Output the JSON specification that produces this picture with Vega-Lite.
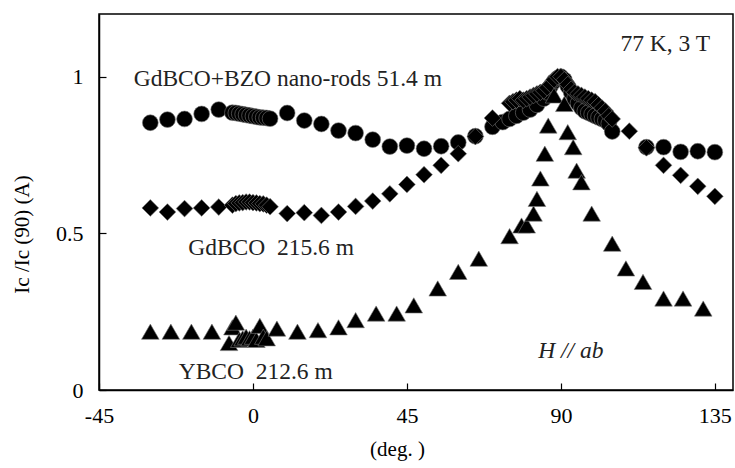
{
  "$schema": "https://vega.github.io/schema/vega-lite/v6.json",
  "autosize": "none",
  "width": 634,
  "height": 376,
  "padding": {"left": 99, "top": 14, "right": 2, "bottom": 78},
  "background": "white",
  "config": {
    "font": "Liberation Serif",
    "view": {"stroke": "black", "strokeWidth": 1.5},
    "axis": {"grid": false, "domainColor": "black", "domainWidth": 1.5, "tickColor": "black", "labelColor": "black", "titleColor": "black", "labelFont": "Liberation Serif", "titleFont": "Liberation Serif", "labelFontSize": 22, "titleFontSize": 21, "titleFontWeight": "normal"}
  },
  "datasets": {
    "pts": [
      {"s": "GdBCO+BZO", "a": -30, "v": 0.853}, {"s": "GdBCO+BZO", "a": -25, "v": 0.863}, {"s": "GdBCO+BZO", "a": -20, "v": 0.865}, {"s": "GdBCO+BZO", "a": -15, "v": 0.881}, {"s": "GdBCO+BZO", "a": -10, "v": 0.895},
      {"s": "GdBCO+BZO", "a": -6, "v": 0.885}, {"s": "GdBCO+BZO", "a": -5, "v": 0.884}, {"s": "GdBCO+BZO", "a": -4, "v": 0.882}, {"s": "GdBCO+BZO", "a": -3, "v": 0.88}, {"s": "GdBCO+BZO", "a": -2, "v": 0.878}, {"s": "GdBCO+BZO", "a": -1, "v": 0.876}, {"s": "GdBCO+BZO", "a": 0, "v": 0.874}, {"s": "GdBCO+BZO", "a": 1, "v": 0.872}, {"s": "GdBCO+BZO", "a": 2, "v": 0.87}, {"s": "GdBCO+BZO", "a": 3, "v": 0.869}, {"s": "GdBCO+BZO", "a": 4, "v": 0.868}, {"s": "GdBCO+BZO", "a": 5, "v": 0.866},
      {"s": "GdBCO+BZO", "a": 10, "v": 0.884}, {"s": "GdBCO+BZO", "a": 15, "v": 0.86}, {"s": "GdBCO+BZO", "a": 20, "v": 0.849}, {"s": "GdBCO+BZO", "a": 25, "v": 0.828}, {"s": "GdBCO+BZO", "a": 30, "v": 0.82}, {"s": "GdBCO+BZO", "a": 35, "v": 0.799}, {"s": "GdBCO+BZO", "a": 40, "v": 0.777}, {"s": "GdBCO+BZO", "a": 45, "v": 0.78}, {"s": "GdBCO+BZO", "a": 50, "v": 0.77}, {"s": "GdBCO+BZO", "a": 55, "v": 0.778}, {"s": "GdBCO+BZO", "a": 60, "v": 0.79},
      {"s": "GdBCO+BZO", "a": 65, "v": 0.81}, {"s": "GdBCO+BZO", "a": 70, "v": 0.84}, {"s": "GdBCO+BZO", "a": 73, "v": 0.855}, {"s": "GdBCO+BZO", "a": 75, "v": 0.865}, {"s": "GdBCO+BZO", "a": 77, "v": 0.875}, {"s": "GdBCO+BZO", "a": 79, "v": 0.885}, {"s": "GdBCO+BZO", "a": 81, "v": 0.895}, {"s": "GdBCO+BZO", "a": 83, "v": 0.91}, {"s": "GdBCO+BZO", "a": 85, "v": 0.93}, {"s": "GdBCO+BZO", "a": 86, "v": 0.95}, {"s": "GdBCO+BZO", "a": 87, "v": 0.97}, {"s": "GdBCO+BZO", "a": 88, "v": 0.985}, {"s": "GdBCO+BZO", "a": 89, "v": 0.995}, {"s": "GdBCO+BZO", "a": 90, "v": 1.0}, {"s": "GdBCO+BZO", "a": 91, "v": 0.99}, {"s": "GdBCO+BZO", "a": 92, "v": 0.97}, {"s": "GdBCO+BZO", "a": 93, "v": 0.95}, {"s": "GdBCO+BZO", "a": 94, "v": 0.93}, {"s": "GdBCO+BZO", "a": 95, "v": 0.915}, {"s": "GdBCO+BZO", "a": 96, "v": 0.9}, {"s": "GdBCO+BZO", "a": 97, "v": 0.89}, {"s": "GdBCO+BZO", "a": 98, "v": 0.885}, {"s": "GdBCO+BZO", "a": 99, "v": 0.88}, {"s": "GdBCO+BZO", "a": 100, "v": 0.875}, {"s": "GdBCO+BZO", "a": 101, "v": 0.87}, {"s": "GdBCO+BZO", "a": 102, "v": 0.865}, {"s": "GdBCO+BZO", "a": 103, "v": 0.86}, {"s": "GdBCO+BZO", "a": 104, "v": 0.85}, {"s": "GdBCO+BZO", "a": 105, "v": 0.825}, {"s": "GdBCO+BZO", "a": 115, "v": 0.775}, {"s": "GdBCO+BZO", "a": 120, "v": 0.775}, {"s": "GdBCO+BZO", "a": 125, "v": 0.76}, {"s": "GdBCO+BZO", "a": 130, "v": 0.762}, {"s": "GdBCO+BZO", "a": 135, "v": 0.759},

      {"s": "GdBCO", "a": -30, "v": 0.581}, {"s": "GdBCO", "a": -25, "v": 0.568}, {"s": "GdBCO", "a": -20, "v": 0.579}, {"s": "GdBCO", "a": -15, "v": 0.581}, {"s": "GdBCO", "a": -10, "v": 0.584},
      {"s": "GdBCO", "a": -6, "v": 0.59}, {"s": "GdBCO", "a": -5, "v": 0.595}, {"s": "GdBCO", "a": -4, "v": 0.597}, {"s": "GdBCO", "a": -3, "v": 0.598}, {"s": "GdBCO", "a": -2, "v": 0.6}, {"s": "GdBCO", "a": -1, "v": 0.6}, {"s": "GdBCO", "a": 0, "v": 0.598}, {"s": "GdBCO", "a": 1, "v": 0.597}, {"s": "GdBCO", "a": 2, "v": 0.595}, {"s": "GdBCO", "a": 3, "v": 0.594}, {"s": "GdBCO", "a": 4, "v": 0.59}, {"s": "GdBCO", "a": 5, "v": 0.585},
      {"s": "GdBCO", "a": 10, "v": 0.563}, {"s": "GdBCO", "a": 15, "v": 0.566}, {"s": "GdBCO", "a": 20, "v": 0.557}, {"s": "GdBCO", "a": 25, "v": 0.568}, {"s": "GdBCO", "a": 30, "v": 0.586}, {"s": "GdBCO", "a": 35, "v": 0.603}, {"s": "GdBCO", "a": 40, "v": 0.626}, {"s": "GdBCO", "a": 45, "v": 0.656}, {"s": "GdBCO", "a": 50, "v": 0.687}, {"s": "GdBCO", "a": 55, "v": 0.717}, {"s": "GdBCO", "a": 60, "v": 0.754}, {"s": "GdBCO", "a": 65, "v": 0.809}, {"s": "GdBCO", "a": 70, "v": 0.868},
      {"s": "GdBCO", "a": 75, "v": 0.915}, {"s": "GdBCO", "a": 76, "v": 0.92}, {"s": "GdBCO", "a": 77, "v": 0.925}, {"s": "GdBCO", "a": 78, "v": 0.93}, {"s": "GdBCO", "a": 79, "v": 0.925}, {"s": "GdBCO", "a": 80, "v": 0.93}, {"s": "GdBCO", "a": 81, "v": 0.935}, {"s": "GdBCO", "a": 82, "v": 0.94}, {"s": "GdBCO", "a": 83, "v": 0.945}, {"s": "GdBCO", "a": 84, "v": 0.95}, {"s": "GdBCO", "a": 85, "v": 0.955}, {"s": "GdBCO", "a": 86, "v": 0.965}, {"s": "GdBCO", "a": 87, "v": 0.975}, {"s": "GdBCO", "a": 88, "v": 0.99}, {"s": "GdBCO", "a": 89, "v": 1.0}, {"s": "GdBCO", "a": 90, "v": 1.0}, {"s": "GdBCO", "a": 91, "v": 0.99}, {"s": "GdBCO", "a": 92, "v": 0.975}, {"s": "GdBCO", "a": 93, "v": 0.96}, {"s": "GdBCO", "a": 94, "v": 0.95}, {"s": "GdBCO", "a": 95, "v": 0.945}, {"s": "GdBCO", "a": 96, "v": 0.94}, {"s": "GdBCO", "a": 97, "v": 0.935}, {"s": "GdBCO", "a": 98, "v": 0.93}, {"s": "GdBCO", "a": 99, "v": 0.925}, {"s": "GdBCO", "a": 100, "v": 0.92}, {"s": "GdBCO", "a": 101, "v": 0.91}, {"s": "GdBCO", "a": 102, "v": 0.9}, {"s": "GdBCO", "a": 103, "v": 0.89}, {"s": "GdBCO", "a": 104, "v": 0.875}, {"s": "GdBCO", "a": 105, "v": 0.865},
      {"s": "GdBCO", "a": 110, "v": 0.826}, {"s": "GdBCO", "a": 115, "v": 0.773}, {"s": "GdBCO", "a": 120, "v": 0.717}, {"s": "GdBCO", "a": 125, "v": 0.685}, {"s": "GdBCO", "a": 130, "v": 0.65}, {"s": "GdBCO", "a": 135, "v": 0.618},

      {"s": "YBCO", "a": -30, "v": 0.186}, {"s": "YBCO", "a": -24, "v": 0.186}, {"s": "YBCO", "a": -18, "v": 0.186}, {"s": "YBCO", "a": -12, "v": 0.186},
      {"s": "YBCO", "a": -7, "v": 0.15}, {"s": "YBCO", "a": -6, "v": 0.2}, {"s": "YBCO", "a": -5, "v": 0.215}, {"s": "YBCO", "a": -4, "v": 0.16}, {"s": "YBCO", "a": -3, "v": 0.165}, {"s": "YBCO", "a": -2, "v": 0.17}, {"s": "YBCO", "a": -1, "v": 0.165}, {"s": "YBCO", "a": 0, "v": 0.17}, {"s": "YBCO", "a": 1, "v": 0.16}, {"s": "YBCO", "a": 2, "v": 0.205}, {"s": "YBCO", "a": 3, "v": 0.17}, {"s": "YBCO", "a": 4, "v": 0.165},
      {"s": "YBCO", "a": 7, "v": 0.196}, {"s": "YBCO", "a": 13, "v": 0.186}, {"s": "YBCO", "a": 19, "v": 0.191}, {"s": "YBCO", "a": 25, "v": 0.2}, {"s": "YBCO", "a": 30, "v": 0.223}, {"s": "YBCO", "a": 36, "v": 0.244}, {"s": "YBCO", "a": 42, "v": 0.244}, {"s": "YBCO", "a": 47, "v": 0.27}, {"s": "YBCO", "a": 54, "v": 0.324}, {"s": "YBCO", "a": 60, "v": 0.377}, {"s": "YBCO", "a": 66, "v": 0.419}, {"s": "YBCO", "a": 75, "v": 0.491}, {"s": "YBCO", "a": 78.5, "v": 0.525}, {"s": "YBCO", "a": 80, "v": 0.525}, {"s": "YBCO", "a": 82, "v": 0.563}, {"s": "YBCO", "a": 83, "v": 0.61}, {"s": "YBCO", "a": 84, "v": 0.675}, {"s": "YBCO", "a": 85.3, "v": 0.754}, {"s": "YBCO", "a": 86.3, "v": 0.844}, {"s": "YBCO", "a": 88, "v": 0.94}, {"s": "YBCO", "a": 91, "v": 0.913}, {"s": "YBCO", "a": 92, "v": 0.823}, {"s": "YBCO", "a": 93.6, "v": 0.775}, {"s": "YBCO", "a": 94.6, "v": 0.7}, {"s": "YBCO", "a": 96, "v": 0.663}, {"s": "YBCO", "a": 99, "v": 0.563}, {"s": "YBCO", "a": 105, "v": 0.467}, {"s": "YBCO", "a": 109, "v": 0.388}, {"s": "YBCO", "a": 114, "v": 0.345}, {"s": "YBCO", "a": 120, "v": 0.292}, {"s": "YBCO", "a": 125.7, "v": 0.292}, {"s": "YBCO", "a": 131.6, "v": 0.26}
    ],
    "notes": [
      {"t": "77 K, 3 T", "a": 120.5, "v": 1.105},
      {"t": "GdBCO+BZO nano-rods 51.4 m", "a": 10.2, "v": 0.994},
      {"t": "GdBCO\u00a0\u00a0215.6 m", "a": 5.3, "v": 0.452},
      {"t": "YBCO\u00a0\u00a0212.6 m", "a": 0.8, "v": 0.057}
    ],
    "notes2": [
      {"t": "H // ab", "a": 92.9, "v": 0.124}
    ]
  },
  "layer": [
    {
      "data": {"name": "pts"},
      "mark": {"type": "point", "filled": true, "opacity": 1, "stroke": "#777", "strokeWidth": 0.6},
      "encoding": {
        "x": {"field": "a", "type": "quantitative", "scale": {"domain": [-45, 140.3], "nice": false, "zero": false},
              "axis": {"values": [-45, 0, 45, 90, 135], "labelExpr": "replace(datum.label, '−', '-')", "title": "(deg. )", "tickSize": -7, "tickWidth": 1.2, "labelPadding": 22, "titleX": 298, "titlePadding": 12, "labelFlush": false}},
        "y": {"field": "v", "type": "quantitative", "scale": {"domain": [0, 1.2], "nice": false},
              "axis": {"values": [0, 0.5, 1], "format": "~g", "title": "Ic /Ic (90) (A)", "titleY": 220, "tickSize": -7, "tickWidth": 1.2, "labelPadding": 23, "titlePadding": 23}},
        "shape": {"field": "s", "type": "nominal", "scale": {"domain": ["GdBCO+BZO", "GdBCO", "YBCO"], "range": ["circle", "diamond", "triangle-up"]}, "legend": null},
        "size": {"field": "s", "type": "nominal", "scale": {"domain": ["GdBCO+BZO", "GdBCO", "YBCO"], "range": [250, 310, 340]}, "legend": null},
        "color": {"value": "black"}
      }
    },
    {
      "data": {"name": "notes"},
      "mark": {"type": "text", "font": "Liberation Serif", "fontSize": 23.5, "color": "#222"},
      "encoding": {
        "x": {"field": "a", "type": "quantitative"},
        "y": {"field": "v", "type": "quantitative"},
        "text": {"field": "t"}
      }
    },
    {
      "data": {"name": "notes2"},
      "mark": {"type": "text", "font": "Liberation Serif", "fontSize": 23.5, "fontStyle": "italic", "color": "#222"},
      "encoding": {
        "x": {"field": "a", "type": "quantitative"},
        "y": {"field": "v", "type": "quantitative"},
        "text": {"field": "t"}
      }
    }
  ]
}
